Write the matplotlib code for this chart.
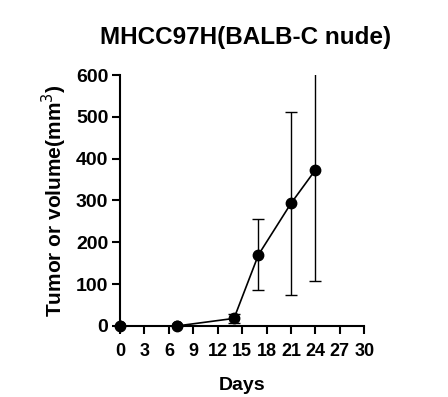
import numpy as np
import matplotlib.pyplot as plt

plt.rcParams['font.family'] = ['Liberation Sans', 'DejaVu Sans']

# volume tumoral moyen +/- SD
days = [0, 7, 14, 17, 21, 24]
volume = [0, 0, 18, 170, 293, 373]
sd = [0, 0, 10, 85, 219, 266]

xticks = list(range(0, 31, 3))
yticks = list(range(0, 601, 100))

fig = plt.figure(figsize=(4.48, 3.97), dpi=100)
ax = fig.add_axes([0.268, 0.179, 0.545, 0.632])

ax.errorbar(days, volume, yerr=sd, color='black', lw=1.2, elinewidth=1,
            capsize=4, capthick=1, marker='o', ms=7.5, zorder=3)
# points sur l'axe
ax.plot(days[:2], volume[:2], 'o', color='black', ms=7.5, clip_on=False, zorder=4)

ax.set_xlim(0, 30)
ax.set_ylim(0, 600)
ax.set_xticks(xticks)
ax.set_yticks(yticks)
ax.set_xticklabels([str(t) for t in xticks], fontsize=13, fontweight='bold')
ax.set_yticklabels([str(t) for t in yticks], fontsize=14, fontweight='bold')
ax.tick_params(direction='out', length=5.5, width=1.5, pad=3)
ax.tick_params(axis='x', pad=7)

for s in ['top', 'right']:
    ax.spines[s].set_visible(False)
for s in ['left', 'bottom']:
    ax.spines[s].set_linewidth(1.5)

ax.set_xlabel('Days', fontsize=14, fontweight='bold', labelpad=12)
ax.set_ylabel('Tumor or volume(mm$^3$)', fontsize=15, fontweight='bold', labelpad=5)
fig.suptitle('MHCC97H(BALB-C nude)', fontsize=17.5, fontweight='bold', x=0.548, y=0.935)

fig.savefig('out.png', dpi=100)
